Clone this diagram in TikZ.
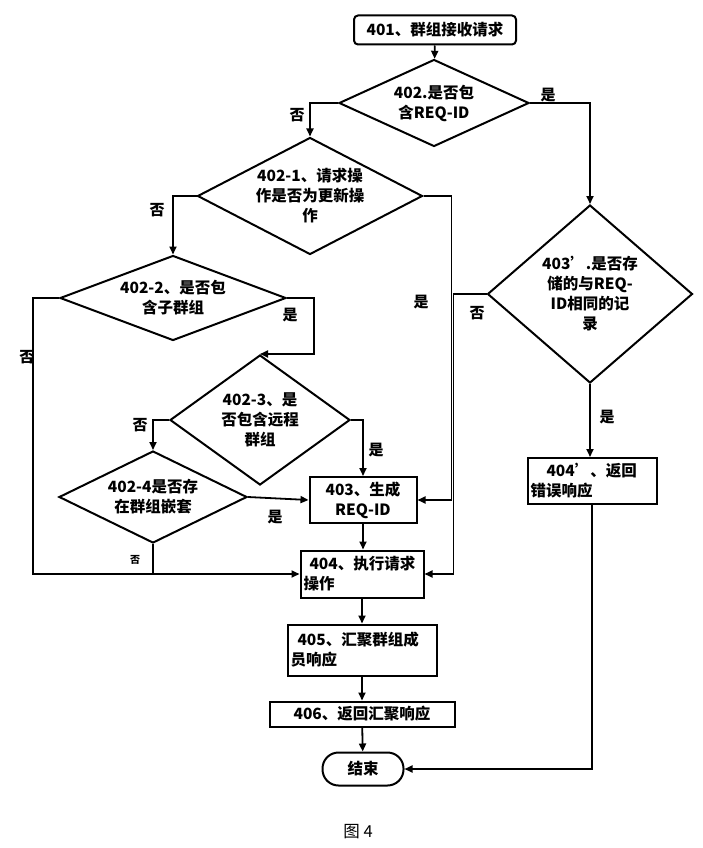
\documentclass[tikz,border=0pt]{standalone}
\usepackage{fontspec}
\setmainfont{Noto Sans CJK SC}
\usetikzlibrary{shapes.geometric, arrows.meta, positioning, calc}

\begin{document}
\begin{tikzpicture}[x=1pt, y=-1pt,
  every node/.style={font=\fontsize{15.5}{20}\selectfont\bfseries},
  box/.style={draw, line width=2pt, inner sep=3pt},
  dec/.style={diamond, draw, line width=2pt, inner sep=0pt, align=center},
  lbl/.style={font=\fontsize{15}{18}\selectfont\bfseries, inner sep=0pt},
  flow/.style={line width=1.8pt, -{Triangle[length=8pt, width=7pt]}},
  link/.style={line width=1.8pt}]
  \useasboundingbox (0,0) rectangle (702,848);

  % start and first check
  \node[box, rounded corners=4pt, minimum width=162pt, minimum height=29pt] (n401) at (435,30) {401、群组接收请求};
  \node[dec, aspect=2.2, minimum width=190pt, minimum height=87pt] (d402) at (434,103) {402.是否包\\含REQ-ID};

  % left branch checks
  \node[dec, aspect=1.9, minimum width=225pt, minimum height=117pt] (d4021) at (310,196) {402-1、请求操\\作是否为更新操\\作};
  \node[dec, aspect=2.6, minimum width=226pt, minimum height=85pt] (d4022) at (173,298) {402-2、是否包\\含子群组};
  \node[dec, aspect=1.4, minimum width=180pt, minimum height=130pt] (d4023) at (260,420) {402-3、是\\否包含远程\\群组};
  \node[dec, aspect=2, minimum width=188pt, minimum height=92pt] (d4024) at (153,497) {402-4是否存\\在群组嵌套};

  % right branch check
  \node[dec, aspect=1.15, minimum width=205pt, minimum height=178pt] (d403b) at (590,294) {403'.是否存\\储的与REQ-\\ID相同的记\\录};

  % process boxes
  \node[box, minimum width=107pt, minimum height=46pt, align=center] (n403) at (363,500) {403、生成\\REQ-ID};
  \node[box, minimum width=123pt, minimum height=47pt, text width=117pt, align=left] (n404) at (362,574) {\hspace{6pt}404、执行请求\\操作};
  \node[box, minimum width=149pt, minimum height=51pt, text width=143pt, align=left] (n405) at (362,650) {\hspace{7pt}405、汇聚群组成\\员响应};
  \node[box, minimum width=185pt, minimum height=25pt, inner sep=1pt] (n406) at (362,714) {406、返回汇聚响应};
  \node[box, minimum width=129pt, minimum height=46pt, text width=123pt, align=left] (n404b) at (592,481) {\hspace{16pt}404’、返回\\错误响应};
  \node[box, rounded corners=16pt, minimum width=81pt, minimum height=33pt] (end) at (363,769) {结束};

  % caption
  \node[font=\fontsize{16.5}{18}\selectfont] (cap) at (358,832) {图 4};

  % connectors
  \draw[flow] (n401) -- (d402);
  \draw[flow] (d402.east) -| (d403b.north);
  \draw[flow] (d402.west) -| (d4021.north);
  \draw[flow] (d4021.west) -| (d4022.north);
  \draw[flow] (d4021.east) -- ++(28,0) |- (n403.east);
  \draw[flow] (d4022.east) -- ++(27,0) |- (d4023.north);
  \draw[flow] (d4022.west) -- ++(-26,0) |- (n404.west);
  \draw[flow] (d4023.west) -| (d4024.north);
  \draw[flow] (d4023.east) -| (n403.north);
  \draw[flow] (d4024.east) -- (n403.west);
  \draw[link] (d4024.south) -- (d4024.south |- n404.west);
  \draw[flow] (n403.south) -- (n403.south |- n404.north);
  \draw[flow] (d403b.west) -- ++(-33,0) |- (n404.east);
  \draw[flow] (d403b.south) -- (d403b.south |- n404b.north);
  \draw[flow] (n404) -- (n405);
  \draw[flow] (n405) -- (n406);
  \draw[flow] (n406) -- (end);
  \draw[flow] (n404b.south) |- (end.east);

  % yes / no labels
  \node[lbl] (y402) at (548,95) {是};
  \node[lbl] (n402) at (297,115) {否};
  \node[lbl] (n4021) at (157,210) {否};
  \node[lbl] (y4021) at (421,302) {是};
  \node[lbl] (y4022) at (290,315) {是};
  \node[lbl] (n4022) at (27,357) {否};
  \node[lbl] (n4023) at (140,425) {否};
  \node[lbl] (y4023) at (376,450) {是};
  \node[lbl] (y4024) at (275,517) {是};
  \node[lbl, font=\fontsize{10}{12}\selectfont\bfseries] (n4024) at (135,560) {否};
  \node[lbl] (n403b) at (477,313) {否};
  \node[lbl] (y403b) at (607,417) {是};
\end{tikzpicture}
\end{document}
